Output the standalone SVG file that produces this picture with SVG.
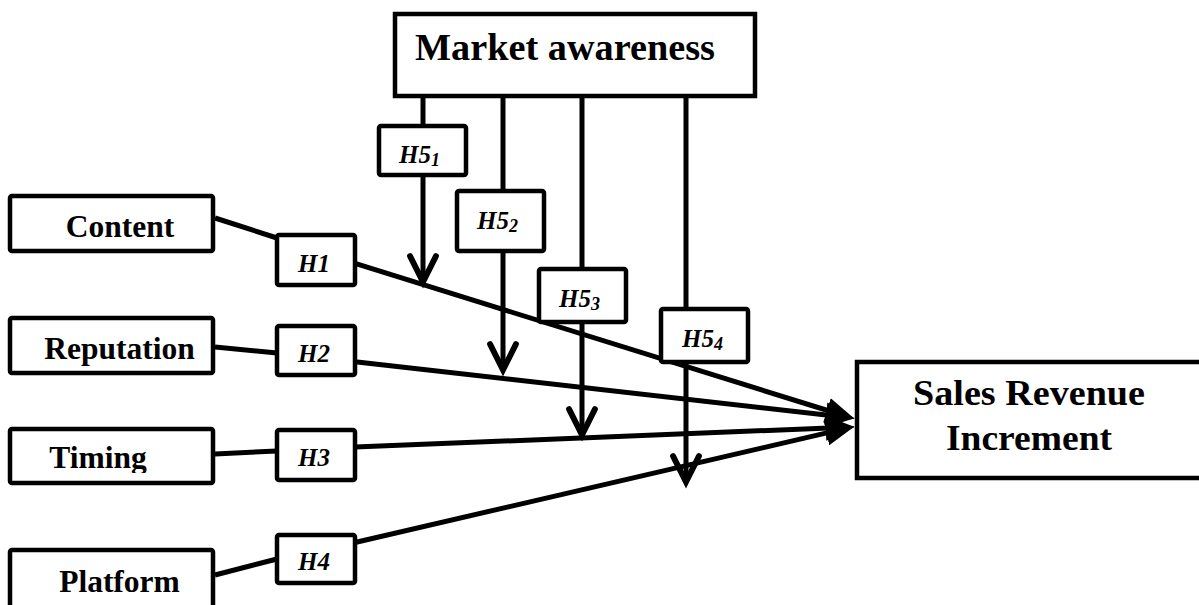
<svg xmlns="http://www.w3.org/2000/svg" width="1199" height="605" viewBox="0 0 1199 605">
<style>
.box{fill:#fff;stroke:#000;stroke-width:4.5}
.hb{fill:#fff;stroke:#000;stroke-width:4.5}
.lbl{font-family:"Liberation Serif","Times New Roman",serif;font-weight:bold;fill:#000}
.hl{font-family:"Liberation Serif","Times New Roman",serif;font-weight:bold;font-style:italic;fill:#000;font-size:25px}
.ln{stroke:#000;stroke-width:5;fill:none}
</style>
<defs>
<marker id="tri" markerUnits="userSpaceOnUse" markerWidth="30" markerHeight="30" viewBox="0 -12 26 24" refX="8" refY="0" orient="auto">
<path d="M0,-11 L25,0 L0,11 z" fill="#000"/>
</marker>
<marker id="chev" markerUnits="userSpaceOnUse" markerWidth="40" markerHeight="40" viewBox="-28 -16 34 32" refX="0" refY="0" orient="auto">
<path d="M-22,-11 L0,0 L-22,11" fill="none" stroke="#000" stroke-width="5" stroke-linecap="round" stroke-linejoin="miter"/>
</marker>
<clipPath id="tclip"><rect x="0" y="400" width="230" height="73"/></clipPath>
</defs>
<g id="connectors">
<line class="ln" x1="215" y1="218" x2="277" y2="238"/>
<line class="ln" x1="215" y1="347" x2="277" y2="353"/>
<line class="ln" x1="215" y1="454" x2="277" y2="451"/>
<line class="ln" x1="215" y1="575" x2="277" y2="559"/>
<line class="ln" x1="355" y1="263.4" x2="835.8" y2="413" marker-end="url(#tri)"/>
<line class="ln" x1="355" y1="361.8" x2="835.1" y2="416.1" marker-end="url(#tri)"/>
<line class="ln" x1="355" y1="447.1" x2="835" y2="427.7" marker-end="url(#tri)"/>
<line class="ln" x1="355" y1="542.5" x2="835.4" y2="430.9" marker-end="url(#tri)"/>
<line class="ln" x1="423" y1="96" x2="423" y2="126"/>
<line class="ln" x1="423" y1="175" x2="423" y2="282" marker-end="url(#chev)"/>
<line class="ln" x1="503" y1="90" x2="503" y2="191"/>
<line class="ln" x1="503" y1="251" x2="503" y2="370" marker-end="url(#chev)"/>
<line class="ln" x1="582" y1="90" x2="582" y2="269"/>
<line class="ln" x1="582" y1="322" x2="582" y2="435" marker-end="url(#chev)"/>
<line class="ln" x1="686" y1="90" x2="686" y2="309"/>
<line class="ln" x1="686" y1="362" x2="686" y2="482" marker-end="url(#chev)"/>
</g>
<g id="market">
<rect class="box" x="395" y="14" width="360" height="82"/>
<text class="lbl" x="415" y="60" font-size="37" textLength="300" lengthAdjust="spacingAndGlyphs">Market awareness</text>
</g>
<g id="content">
<rect class="box" x="10" y="196" width="203" height="55" rx="2"/>
<text class="lbl" x="120" y="237" font-size="31.5" text-anchor="middle">Content</text>
</g>
<g id="reputation">
<rect class="box" x="10" y="318" width="203" height="55" rx="2"/>
<text class="lbl" x="119.5" y="359" font-size="31.5" text-anchor="middle">Reputation</text>
</g>
<g id="timing">
<rect class="box" x="10" y="429" width="203" height="54" rx="2"/>
<text class="lbl" x="98" y="468" font-size="31.5" text-anchor="middle" clip-path="url(#tclip)">Timing</text>
</g>
<g id="platform">
<rect class="box" x="10" y="550" width="203" height="70" rx="2"/>
<text class="lbl" x="119.5" y="592" font-size="31.5" text-anchor="middle">Platform</text>
</g>
<g id="h1">
<rect class="hb" x="277" y="235" width="78" height="50" rx="2"/>
<text class="hl" x="314" y="272" text-anchor="middle">H1</text>
</g>
<g id="h2">
<rect class="hb" x="277" y="326" width="78" height="49" rx="2"/>
<text class="hl" x="314" y="362" text-anchor="middle">H2</text>
</g>
<g id="h3">
<rect class="hb" x="277" y="430" width="78" height="50" rx="2"/>
<text class="hl" x="314" y="466" text-anchor="middle">H3</text>
</g>
<g id="h4">
<rect class="hb" x="277" y="535" width="78" height="48" rx="2"/>
<text class="hl" x="314" y="570" text-anchor="middle">H4</text>
</g>
<g id="h51">
<rect class="hb" x="379" y="126" width="87" height="49" rx="2"/>
<text class="hl" x="399" y="163">H5<tspan font-size="18" dy="3">1</tspan></text>
</g>
<g id="h52">
<rect class="hb" x="457" y="191" width="87" height="60" rx="2"/>
<text class="hl" x="477" y="229">H5<tspan font-size="18" dy="3">2</tspan></text>
</g>
<g id="h53">
<rect class="hb" x="539" y="269" width="87" height="53" rx="2"/>
<text class="hl" x="559" y="307">H5<tspan font-size="18" dy="3">3</tspan></text>
</g>
<g id="h54">
<rect class="hb" x="661" y="309" width="87" height="53" rx="2"/>
<text class="hl" x="682" y="347">H5<tspan font-size="18" dy="3">4</tspan></text>
</g>
<g id="sales">
<rect class="box" x="857" y="362" width="360" height="116"/>
<text class="lbl" x="1029" y="405" font-size="35" text-anchor="middle" textLength="232" lengthAdjust="spacingAndGlyphs">Sales Revenue</text>
<text class="lbl" x="1029" y="450" font-size="35" text-anchor="middle" textLength="166" lengthAdjust="spacingAndGlyphs">Increment</text>
</g>
</svg>
